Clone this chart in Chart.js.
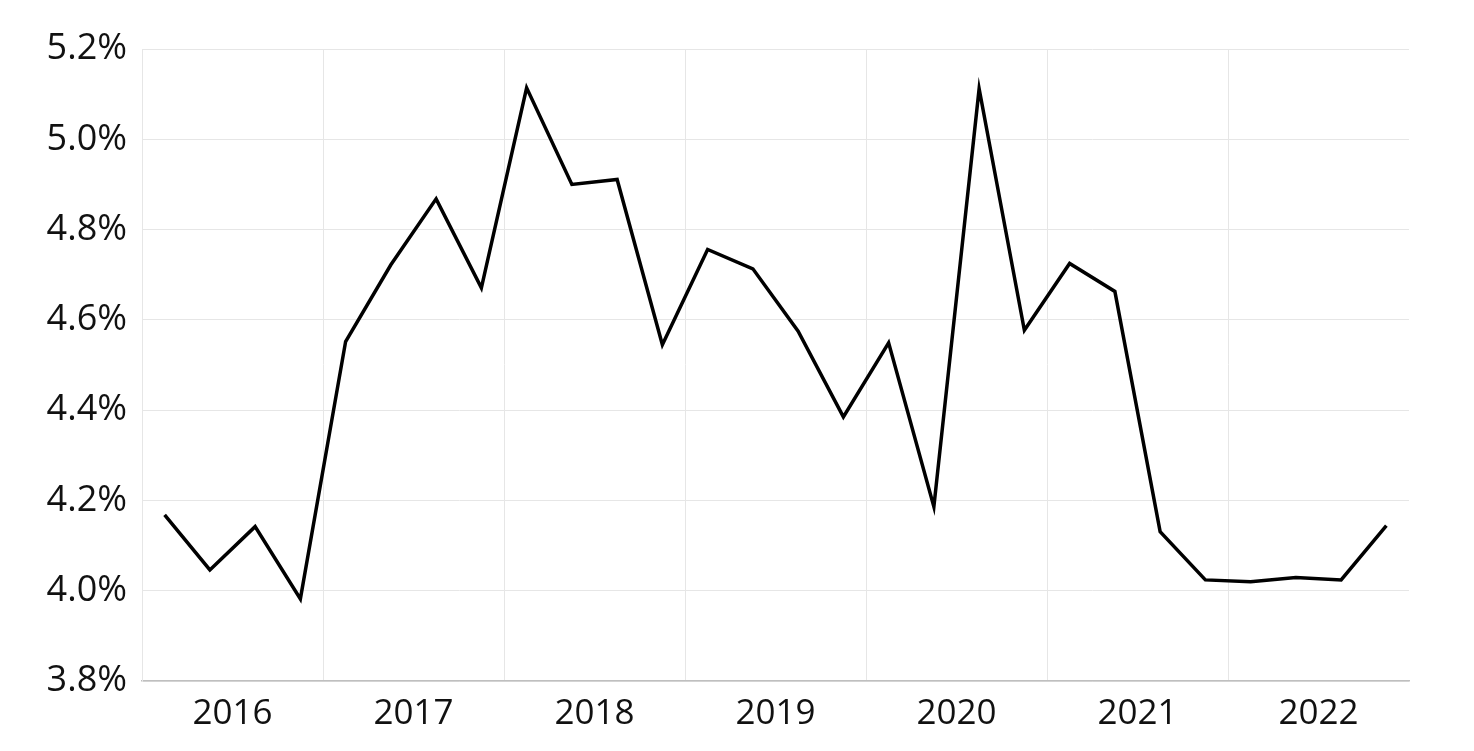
<!DOCTYPE html>
<html>
<head>
<meta charset="utf-8">
<script src="https://cdn.jsdelivr.net/npm/chart.js@4/dist/chart.umd.min.js"></script>
<style>
  html, body { margin: 0; padding: 0; background: #fff; }
  #wrap { width: 1474px; height: 751px; position: relative; }
</style>
</head>
<body>
<div id="wrap"><canvas id="c"></canvas></div>
<script>
const years = ['2016', '2017', '2018', '2019', '2020', '2021', '2022'];
const quarters = ['Q1', 'Q2', 'Q3', 'Q4'];
const rates = [
  4.168, 4.046, 4.142, 3.982,
  4.552, 4.722, 4.868, 4.671,
  5.114, 4.900, 4.911, 4.545,
  4.756, 4.713, 4.575, 4.385,
  4.549, 4.186, 5.112, 4.577,
  4.725, 4.663, 4.131, 4.024,
  4.020, 4.029, 4.024, 4.144
];
const yTicks = [3.8, 4.0, 4.2, 4.4, 4.6, 4.8, 5.0, 5.2];

const points = rates.map((v, i) => ({ x: i + 0.5, y: v, label: years[Math.floor(i / 4)] + ' ' + quarters[i % 4] }));

const fontFamily = '"Open Sans", "Noto Sans", sans-serif';

new Chart(document.getElementById('c'), {
  type: 'line',
  data: {
    datasets: [{
      data: points,
      borderColor: '#000000',
      borderWidth: 3.5,
      pointRadius: 0,
      tension: 0,
      fill: false
    }]
  },
  options: {
    responsive: true,
    maintainAspectRatio: false,
    animation: false,
    layout: { padding: { top: 49, right: 65, bottom: 0, left: 0 } },
    plugins: { legend: { display: false }, tooltip: { enabled: false } },
    scales: {
      x: {
        type: 'linear',
        min: 0,
        max: years.length * 4,
        afterBuildTicks: (scale) => {
          const t = [];
          for (let v = 0; v <= years.length * 4; v += 2) t.push({ value: v });
          scale.ticks = t;
        },
        afterFit: (scale) => { scale.height = 70; },
        grid: {
          drawTicks: false,
          color: (ctx) => (ctx.tick && ctx.tick.value % 4 === 0 && ctx.tick.value < years.length * 4) ? '#e6e6e6' : 'rgba(0,0,0,0)',
          lineWidth: 1
        },
        border: { display: true, color: '#bfbfbf', width: 1.5 },
        ticks: {
          autoSkip: false,
          maxRotation: 0,
          padding: 12,
          color: '#111111',
          font: { family: fontFamily, size: 35 },
          callback: (v) => (v % 4 === 2) ? years[(v - 2) / 4] : ''
        }
      },
      y: {
        min: yTicks[0],
        max: yTicks[yTicks.length - 1],
        afterBuildTicks: (scale) => { scale.ticks = yTicks.map(v => ({ value: v })); },
        afterFit: (scale) => { scale.width = 142; },
        grid: { drawTicks: false, color: '#e6e6e6', lineWidth: 1 },
        border: { display: true, color: '#e6e6e6', width: 1 },
        ticks: {
          padding: 15,
          color: '#111111',
          font: { family: fontFamily, size: 36 },
          callback: (v) => v.toFixed(1) + '%'
        }
      }
    }
  }
});
</script>
</body>
</html>
